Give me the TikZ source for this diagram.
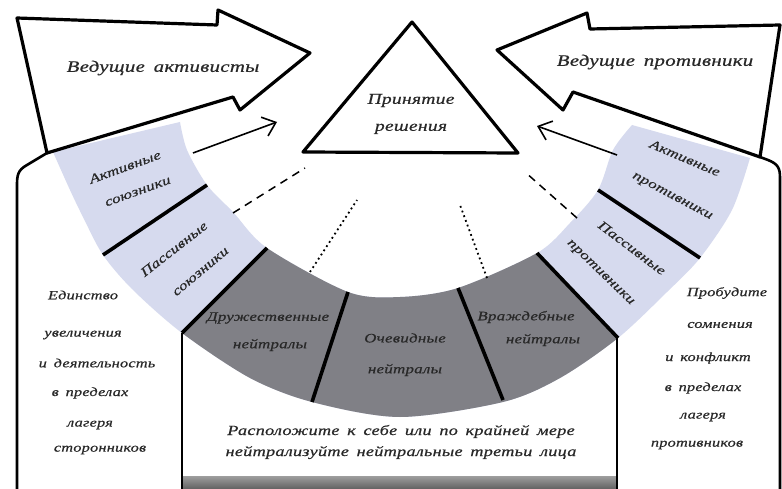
\documentclass[tikz,border=0pt]{standalone}
\usepackage{fontspec}
\setmainfont{Liberation Serif}[FakeStretch=1.3, LetterSpace=2, WordSpace=1.6, FakeBold=0.6]
\usetikzlibrary{arrows.meta}
\definecolor{bandblue}{RGB}{214,218,238}
\definecolor{neutgray}{RGB}{128,128,134}
\definecolor{inkgray}{RGB}{40,40,40}
\begin{document}
\begin{tikzpicture}[x=1pt,y=-1pt,
  lbl/.style={font=\itshape\fontsize{14}{21}\selectfont, text=inkgray, inner sep=0pt, align=center},
  biglbl/.style={font=\itshape\fontsize{16}{19}\selectfont, text=inkgray, inner sep=0pt},
  trilbl/.style={font=\itshape\fontsize{15}{27}\selectfont, text=inkgray, inner sep=0pt, align=center},
  bandtxt/.style={font=\itshape\fontsize{13}{15}\selectfont, text=inkgray, inner sep=0pt},
  sidetxt/.style={font=\itshape\fontsize{12.5}{14}\selectfont, text=inkgray, inner sep=0pt},
  outline/.style={line width=3.2pt, line join=round},
  divider/.style={line width=3.6pt},
  frameline/.style={line width=2.6pt},
  guide/.style={line width=1.6pt, -{Straight Barb[length=12pt,width=20pt]}},
  dashguide/.style={line width=1.5pt, dash pattern=on 8pt off 6pt},
  dotguide/.style={line width=1.8pt, dash pattern=on 1.8pt off 3.2pt}]
\useasboundingbox (0,0) rectangle (782,489);
\fill[white] (0,0) rectangle (782,489);
% band
\def\bandpath{plot[smooth] coordinates {(53,152) (70,190) (83,217) (103,255) (133,290) (182,333) (250,378) (312,402) (400,417) (503,402) (560,378) (618,338) (667,292) (700,258) (732,210) (750,158)} -- plot[smooth] coordinates {(632,125) (613,150) (598,190) (570,223) (537,253) (458,288) (400,297) (348,292) (267,248) (233,212) (207,185) (187,150) (180,122)} -- cycle}
\fill[bandblue] \bandpath;
\begin{scope}
\clip \bandpath;
\fill[neutgray] (140,375) -- (310,205) -- (500,214) -- (660,382) -- (660,480) -- (140,480) -- cycle;
\end{scope}
\draw[divider] (103,255) -- (207,185);
\draw[divider] (182,333) -- (267,248);
\draw[divider] (312,402) -- (348,292);
\draw[divider] (503,400) -- (458,288);
\draw[divider] (618,338) -- (537,253);
\draw[divider] (598,190) -- (700,258);
% inner box
\shade[top color=black!38, bottom color=black!62] (183,476) rectangle (616,489);
\draw[frameline] (182,333) -- (182,489);
\draw[frameline] (617,338) -- (617,489);
% outer frame
\draw[frameline] (47,153) -- (27,165) .. controls (18,170) and (17,175) .. (17,185) -- (17,489);
\draw[frameline] (760,157) -- (768,160) .. controls (778,164) and (780,168) .. (780,178) -- (780,489);
% big arrows
\draw[outline] (17,18) -- (217,25) -- (218,10) -- (310,53) -- (240,110) -- (233,97) -- (47,153) -- cycle;
\draw[outline] (780,25) -- (590,29) -- (587,13) -- (497,50) -- (563,110) -- (573,92) -- (760,157) -- cycle;
% triangle
\draw[outline] (412,22) -- (303,152) -- (518,153) -- cycle;
% guides
\coordinate (laS) at (193,153); \coordinate (laE) at (277,122);
\coordinate (raS) at (617,155); \coordinate (raE) at (537,126);
\draw[guide] (laS) -- (laE);
\draw[guide] (raS) -- (raE);
\coordinate (ld1) at (233,213); \coordinate (ld2) at (305,168);
\coordinate (rd1) at (577,218); \coordinate (rd2) at (525,172);
\coordinate (lo1) at (310,272); \coordinate (lo2) at (357,200);
\coordinate (ro1) at (487,278); \coordinate (ro2) at (460,205);
\draw[dashguide] (ld1) -- (ld2);
\draw[dashguide] (rd1) -- (rd2);
\draw[dotguide] (lo1) -- (lo2);
\draw[dotguide] (ro1) -- (ro2);
% texts
\node[biglbl] (tact) at (163,68) {Ведущие активисты};
\node[biglbl] (topp) at (655,62) {Ведущие противники};
\node[trilbl] (tdec) at (411,114) {Принятие\\решения};
\node[bandtxt, rotate=20] (b1a) at (125,167) {Активные};
\node[bandtxt, rotate=20] (b1b) at (138,192) {союзники};
\node[bandtxt, rotate=38] (b2a) at (174,249) {Пассивные};
\node[bandtxt, rotate=40] (b2b) at (201,272) {союзники};
\node[bandtxt] (b3a) at (268,318) {Дружественные};
\node[bandtxt] (b3b) at (270,345) {нейтралы};
\node[bandtxt] (b4a) at (405,338) {Очевидные};
\node[bandtxt] (b4b) at (405,370) {нейтралы};
\node[bandtxt] (b5a) at (526,317) {Враждебные};
\node[bandtxt] (b5b) at (543,340) {нейтралы};
\node[bandtxt, rotate=-23] (b6a) at (685,158) {Активные};
\node[bandtxt, rotate=-28] (b6b) at (672,197) {противники};
\node[bandtxt, rotate=-37] (b7a) at (632,248) {Пассивные};
\node[bandtxt, rotate=-44] (b7b) at (600,273) {противники};
\node[sidetxt] (l1) at (83,295) {Единство};
\node[sidetxt] (l2) at (83,335) {увеличения};
\node[sidetxt] (l3) at (97,363) {и деятельность};
\node[sidetxt] (l4) at (90,393) {в пределах};
\node[sidetxt] (l5) at (90,425) {лагеря};
\node[sidetxt] (l6) at (100,450) {сторонников};
\node[sidetxt] (r1) at (727,293) {Пробудите};
\node[sidetxt] (r2) at (720,325) {сомнения};
\node[sidetxt] (r3) at (708,358) {и конфликт};
\node[sidetxt] (r4) at (703,388) {в пределах};
\node[sidetxt] (r5) at (703,417) {лагеря};
\node[sidetxt] (r6) at (697,445) {противников};
\node[lbl] (bot) at (401,442) {Расположите к себе или по крайней мере\\нейтрализуйте нейтральные третьи лица};
\end{tikzpicture}
\end{document}
